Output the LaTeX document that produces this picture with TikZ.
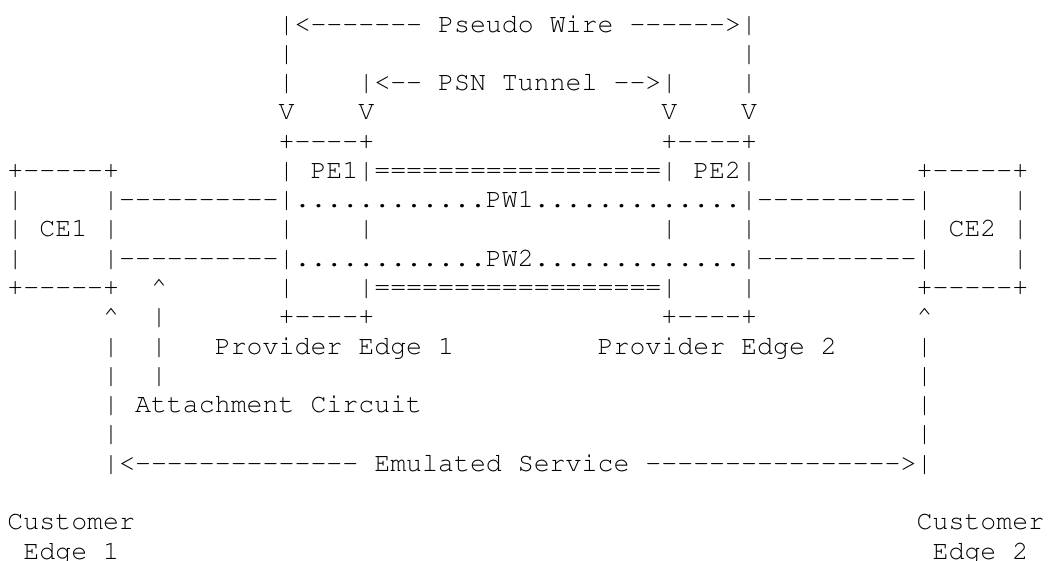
\documentclass[tikz,border=0pt]{standalone}
\usepackage[T1]{fontenc}
\usepackage{courier}
\newcommand{\asciifont}{\fontencoding{T1}\fontfamily{pcr}\fontsize{13.29pt}{15pt}\selectfont\frenchspacing}
% one hyphen per loop step, so no dash ligature forms
\newcommand{\asciidash}[1]{\foreach \i in {1,...,#1}{-}}
\begin{document}
\begin{tikzpicture}[x=7.975pt,y=-14.64pt,
    ascii/.style={anchor=base west,inner sep=0pt,outer sep=0pt,font=\asciifont}]
    \path[fill=white,use as bounding box] (-0.470,-1.093) rectangle (65.298,18.033);

    % Pseudo wire and PSN tunnel spans
    \node[ascii] (pwspan) at (17,0) {|<\asciidash{7} Pseudo Wire \asciidash{6}>|};
    \node[ascii] (pwleftA) at (17,1) {|};
    \node[ascii] (pwrightA) at (46,1) {|};
    \node[ascii] (pwleftB) at (17,2) {|};
    \node[ascii] (psnspan) at (22,2) {|<\asciidash{2} PSN Tunnel \asciidash{2}>|};
    \node[ascii] (pwrightB) at (46,2) {|};
    \foreach \c/\n in {17/a,22/b,41/c,46/d}
      \node[ascii] (v\n) at (\c,3) {V};

    % Provider edges and customer edges
    \node[ascii] (pe1top) at (17,4) {+\asciidash{4}+};
    \node[ascii] (pe2top) at (41,4) {+\asciidash{4}+};
    \node[ascii] (ce1top) at (0,5) {+\asciidash{5}+};
    \node[ascii] (pebar) at (17,5) {| PE1|==================| PE2|};
    \node[ascii] (ce2top) at (57,5) {+\asciidash{5}+};

    % Pseudo wires
    \node[ascii] (ce1left) at (0,6) {|};
    \node[ascii] (pw1) at (6,6) {|\asciidash{10}|............PW1.............|\asciidash{10}|};
    \node[ascii] (ce2right) at (63,6) {|};
    \node[ascii] (ce1) at (0,7) {| CE1 |};
    \foreach \c/\n in {17/a,22/b,41/c,46/d}
      \node[ascii] (mid\n) at (\c,7) {|};
    \node[ascii] (ce2) at (57,7) {| CE2 |};
    \node[ascii] (ce1leftB) at (0,8) {|};
    \node[ascii] (pw2) at (6,8) {|\asciidash{10}|............PW2.............|\asciidash{10}|};
    \node[ascii] (ce2rightB) at (63,8) {|};

    % Lower tunnel and box bottoms
    \node[ascii] (ce1bot) at (0,9) {+\asciidash{5}+};
    \node[ascii] (acup) at (9,9) {\textasciicircum};
    \node[ascii] (pe1low) at (17,9) {|};
    \node[ascii] (tunnel) at (22,9) {|==================|};
    \node[ascii] (pe2low) at (46,9) {|};
    \node[ascii] (ce2bot) at (57,9) {+\asciidash{5}+};
    \node[ascii] (ce1up) at (6,10) {\textasciicircum};
    \node[ascii] (acbarA) at (9,10) {|};
    \node[ascii] (pe1bot) at (17,10) {+\asciidash{4}+};
    \node[ascii] (pe2bot) at (41,10) {+\asciidash{4}+};
    \node[ascii] (ce2up) at (57,10) {\textasciicircum};

    % Labels
    \node[ascii] (ce1barA) at (6,11) {|};
    \node[ascii] (acbarB) at (9,11) {|};
    \node[ascii] (pe1label) at (13,11) {Provider Edge 1};
    \node[ascii] (pe2label) at (37,11) {Provider Edge 2};
    \node[ascii] (ce2barA) at (57,11) {|};
    \node[ascii] (ce1barB) at (6,12) {|};
    \node[ascii] (acbarC) at (9,12) {|};
    \node[ascii] (ce2barB) at (57,12) {|};
    \node[ascii] (aclabel) at (6,13) {| Attachment Circuit};
    \node[ascii] (ce2barC) at (57,13) {|};
    \node[ascii] (ce1barC) at (6,14) {|};
    \node[ascii] (ce2barD) at (57,14) {|};

    % Emulated service span
    \node[ascii] (esspan) at (6,15) {|<\asciidash{14} Emulated Service \asciidash{16}>|};
    \node[ascii] (ce1name) at (0,17) {Customer};
    \node[ascii] (ce1num) at (1,18) {Edge 1};
    \node[ascii] (ce2name) at (57,17) {Customer};
    \node[ascii] (ce2num) at (58,18) {Edge 2};
  \end{tikzpicture}
\end{document}
